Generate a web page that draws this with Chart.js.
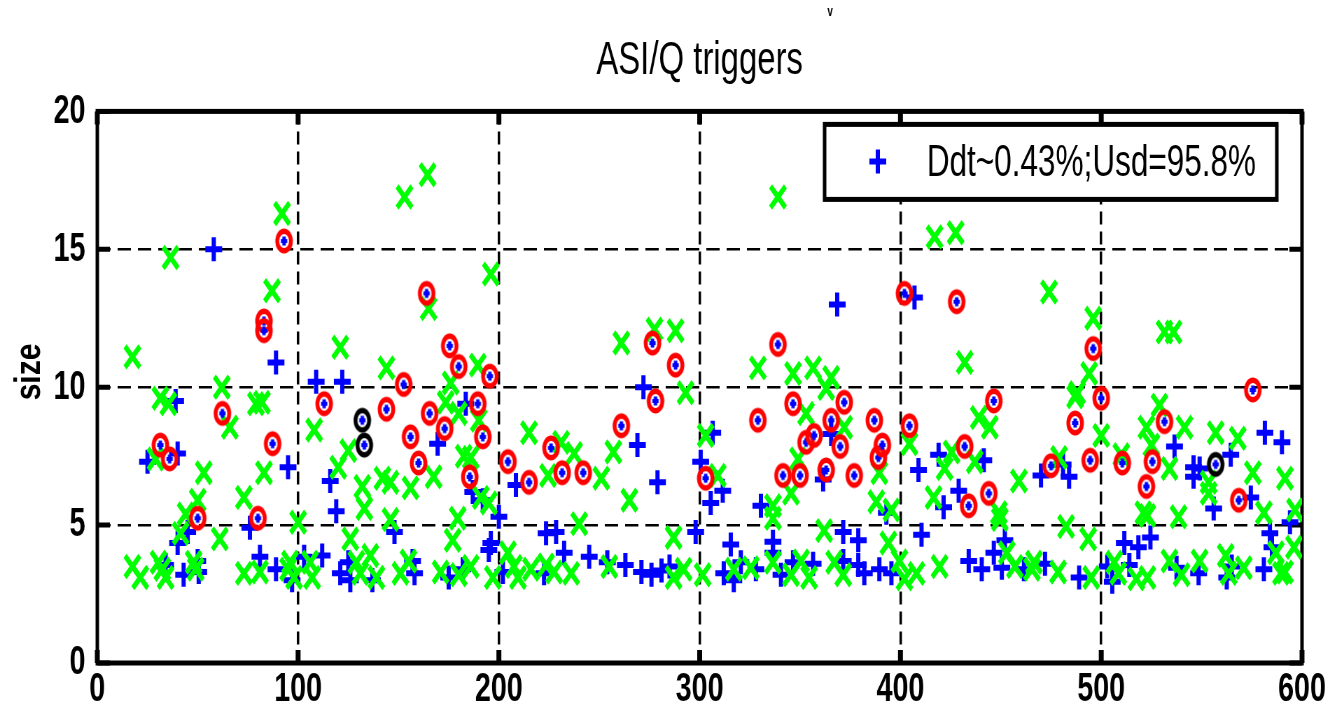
<!DOCTYPE html>
<html>
<head>
<meta charset="utf-8">
<title>ASI/Q triggers</title>
<script src="https://cdn.jsdelivr.net/npm/chart.js@4.4.0/dist/chart.umd.min.js"></script>
<style>
  html, body { margin: 0; padding: 0; background: #fff; overflow: hidden; }
  /* the original figure was squeezed sideways; draw wide and squeeze the same way */
  #wrap { width: 1901px; height: 722px; transform: scaleX(0.7); transform-origin: 0 0; }
</style>
</head>
<body>
<div id="wrap"><canvas id="trigChart" width="1901" height="722"></canvas></div>
<script>
// Chart text
const titleText = 'ASI/Q triggers';
const yAxisTitle = 'size';
const legendText = 'Ddt~0.43%;Usd=95.8%';

// Axis ranges / ticks
const xTickMin = 0, xTickMax = 600, xTickStep = 100;
const yTickMin = 0, yTickMax = 20, yTickStep = 5;

// Blue "+" triggers
const plusX = [25, 40, 39, 58, 89, 95, 76, 40, 45, 34,
  43, 50, 50.5, 81, 89, 97, 103, 112, 121, 125,
  126, 137, 148, 109, 122, 116, 119, 183.5, 169.5, 272,
  269, 279, 208.5, 200, 192, 187, 196, 195, 223.5, 228.5,
  232.5, 245, 254, 263, 271, 276, 281, 285, 158, 157,
  175, 182, 202, 222.5, 368.5, 407, 306.5, 300.5, 311.5, 305.5,
  298, 330.5, 315.5, 336.5, 361.5, 365.5, 371.5, 379, 393, 410.5,
  409, 419, 429, 421.5, 441.5, 312, 317, 320.5, 328, 336.5,
  340.5, 346.5, 356.5, 371.5, 379, 382, 389.5, 395.5, 434, 440.5,
  446.5, 536.5, 546, 549, 546, 564.5, 581.5, 590, 574.5, 556,
  470, 484, 481, 584, 585, 594, 452, 518.5, 524.5, 511.5,
  450.5, 461.5, 472, 489, 503, 505.5, 514, 537.5, 548.5, 562.5, 565, 581];
const plusY = [7.3, 7.6, 9.5, 15.0, 10.9, 7.1, 4.9, 4.35, 4.75, 3.55,
  3.2, 3.7, 3.3, 3.85, 3.4, 3.0, 3.85, 3.9, 3.25, 3.65,
  3.0, 3.0, 4.75, 10.2, 10.2, 6.6, 5.5, 9.4, 7.95, 10.0,
  7.9, 6.55, 6.45, 5.3, 5.9, 6.2, 4.35, 4.1, 4.7, 4.75,
  4.0, 3.85, 3.65, 3.55, 3.3, 3.2, 3.35, 3.5, 3.25, 3.7,
  3.1, 3.4, 3.3, 3.25, 13.0, 13.25, 8.35, 7.3, 6.25, 5.8,
  4.75, 5.7, 4.3, 4.4, 6.65, 8.3, 4.75, 4.45, 5.45, 4.65,
  7.0, 7.55, 6.25, 5.65, 7.35, 3.25, 3.0, 3.65, 3.4, 4.0,
  3.2, 3.65, 3.6, 3.7, 3.55, 3.25, 3.4, 3.25, 3.7, 3.4,
  4.0, 7.85, 7.1, 7.05, 6.75, 7.55, 8.35, 8.0, 6.0, 5.6,
  6.8, 6.75, 7.2, 4.7, 4.2, 5.1, 4.45, 4.2, 4.55, 4.35,
  3.45, 3.4, 3.6, 3.1, 3.5, 2.95, 3.55, 3.45, 3.25, 3.1, 3.5, 3.4];

// Green "x" triggers
const crossX = [17.5, 31.4, 35.4, 62, 66, 79, 82, 29, 53, 83,
  73, 50, 44, 41.5, 61, 100, 17.5, 21.4, 30.5, 32.4,
  34, 48, 49, 73, 81, 95, 98, 96, 106, 107,
  129, 131, 136, 139, 146, 108, 125, 120, 132, 133,
  142, 146, 126, 92, 36.5, 87, 121, 144, 164.5, 153,
  196, 165, 189.5, 176, 173.5, 180, 156, 167.5, 182.5, 186,
  190, 191, 195, 179.5, 177, 215, 231, 237.5, 224.5, 251,
  257, 265, 240, 293, 287, 155, 151, 171, 180, 186,
  197, 204.5, 207.5, 209.5, 216, 223.5, 227.5, 236, 255, 287,
  292, 261, 277.5, 288, 339, 417, 427.5, 432, 329, 346.5,
  356.5, 365.5, 363, 301.5, 317, 325.5, 336.5, 345.5, 350.5, 354.5,
  367, 371.5, 394, 399.5, 402, 408, 419.5, 303, 309, 353,
  362, 345.5, 336.5, 336.5, 349, 372, 388, 395.5, 389.5, 404.5,
  416.5, 422, 425.5, 437, 444.5, 439, 449, 474, 496, 494,
  531.5, 536, 488, 487, 500, 479, 459, 449.5, 482.5, 493.5,
  453, 510, 522.5, 529, 541.5, 525, 534, 557, 568, 575.5,
  591.5, 553.5, 553.5, 521, 523, 538.5, 581, 596.5, 596, 587,
  457, 466.5, 465.5, 478.5, 495, 506.5, 508.5, 517.5, 523, 534,
  540, 549, 562, 563.5, 571, 589.5, 591.5];
const crossY = [11.1, 9.6, 9.4, 10.0, 8.55, 9.4, 9.45, 7.4, 6.9, 6.9,
  6.0, 5.9, 5.4, 4.7, 4.5, 5.1, 3.5, 3.1, 3.65, 3.4,
  3.1, 3.65, 3.4, 3.25, 3.3, 3.4, 3.1, 3.65, 3.65, 3.1,
  3.65, 3.25, 3.9, 3.1, 5.2, 8.45, 7.7, 7.1, 6.4, 5.6,
  6.7, 6.55, 4.5, 16.3, 14.7, 13.5, 11.45, 10.7, 17.7, 16.9,
  14.1, 12.85, 10.8, 10.15, 9.45, 9.05, 6.35, 6.75, 7.5, 7.45,
  8.8, 6.0, 5.8, 5.25, 4.45, 8.35, 8.0, 7.6, 6.8, 6.7,
  7.65, 5.9, 5.05, 9.8, 4.55, 3.7, 3.25, 3.3, 3.2, 3.5,
  3.1, 4.0, 3.5, 3.1, 3.4, 3.55, 3.3, 3.25, 3.5, 3.1,
  3.4, 11.6, 12.1, 12.05, 16.9, 15.45, 15.6, 10.9, 10.7, 10.5,
  10.7, 10.35, 9.95, 3.2, 3.4, 3.45, 3.65, 3.2, 3.7, 3.1,
  3.65, 3.2, 4.35, 3.7, 3.05, 3.25, 3.5, 8.25, 6.8, 9.05,
  4.8, 6.15, 5.7, 5.25, 7.4, 8.55, 5.85, 5.55, 6.9, 7.95,
  6.0, 7.05, 7.65, 7.3, 8.55, 8.9, 5.45, 13.45, 12.5, 10.5,
  12.0, 12.0, 9.8, 9.65, 8.25, 7.45, 6.6, 5.2, 4.95, 4.5,
  4.0, 7.55, 8.55, 9.35, 8.55, 7.9, 7.05, 8.35, 8.15, 6.9,
  6.7, 6.55, 6.15, 5.45, 5.35, 5.3, 5.45, 5.55, 4.2, 4.0,
  3.5, 3.65, 3.4, 3.3, 3.1, 3.65, 3.25, 3.05, 3.1, 3.7,
  3.2, 3.7, 3.9, 3.25, 3.45, 3.25, 3.3];

// Red circled triggers
const ringX = [31.4, 36, 50, 62.3, 80, 83, 83, 87.3, 93, 113,
  144, 152.6, 156, 160, 164, 165.5, 173, 175.5, 180, 185.5,
  189.5, 192, 195.5, 204.5, 215, 226, 231.5, 242, 261, 276.5,
  278, 288, 303, 329, 339, 341.5, 346.5, 350, 353, 357,
  363, 365.5, 370, 372, 377, 387, 389, 391, 402, 404.5,
  428, 432, 434, 444, 446.5, 475, 487, 494.5, 496, 500,
  510.5, 522.5, 525.5, 531.5, 568.5, 575.5];
const ringY = [7.9, 7.4, 5.25, 9.05, 5.25, 12.4, 12.05, 7.95, 15.3, 9.4,
  9.2, 10.1, 8.2, 7.25, 13.4, 9.05, 8.5, 11.5, 10.75, 6.75,
  9.4, 8.2, 10.4, 7.3, 6.55, 7.8, 6.9, 6.9, 8.6, 11.6,
  9.5, 10.8, 6.7, 8.8, 11.55, 6.8, 9.4, 6.8, 8.0, 8.25,
  7.0, 8.8, 7.85, 9.45, 6.8, 8.8, 7.45, 7.9, 13.4, 8.6,
  13.1, 7.85, 5.7, 6.15, 9.5, 7.15, 8.7, 7.35, 11.4, 9.6,
  7.25, 6.4, 7.3, 8.75, 5.9, 9.9];

// Black circled triggers
const blackX = [132, 133, 557];
const blackY = [8.8, 7.9, 7.2];

const FONT = "'Liberation Sans', Arial, sans-serif";

function toPoints(xs, ys) {
    return xs.map((x, i) => ({ x: x, y: ys[i] }));
}

// circled marker with the small blue point in the middle
function ringMarker(color) {
    const size = 28, lw = 5.5;
    const c = document.createElement('canvas');
    c.width = size; c.height = size;
    const g = c.getContext('2d');
    g.beginPath();
    g.arc(size / 2, size / 2, (25 - lw) / 2, 0, Math.PI * 2);
    g.lineWidth = lw;
    g.strokeStyle = color;
    g.stroke();
    g.fillStyle = '#0000ff';
    g.fillRect(size / 2 - 2.5, size / 2 - 4.5, 5, 9);
    g.fillRect(size / 2 - 4.5, size / 2 - 2, 9, 4);
    return c;
}

const redRingImg = ringMarker('#ff0000');
const blackRingImg = ringMarker('#000000');

// Frame, inward tick marks, y label and the small stray mark above the title
const framePlugin = {
    id: 'frame',
    beforeDatasetsDraw(chart) {
        const { ctx, chartArea: a, scales } = chart;
        ctx.save();
        ctx.strokeStyle = '#000';
        ctx.lineWidth = 5;
        ctx.strokeRect(a.left, a.top, a.right - a.left, a.bottom - a.top);
        ctx.beginPath();
        ctx.lineWidth = 7;
        for (let v = xTickMin; v <= xTickMax; v += xTickStep) {
            const px = scales.x.getPixelForValue(v);
            ctx.moveTo(px, a.bottom); ctx.lineTo(px, a.bottom - 13);
            ctx.moveTo(px, a.top); ctx.lineTo(px, a.top + 13);
        }
        ctx.stroke();
        ctx.beginPath();
        ctx.lineWidth = 5;
        for (let v = yTickMin; v <= yTickMax; v += yTickStep) {
            const py = scales.y.getPixelForValue(v);
            ctx.moveTo(a.left, py); ctx.lineTo(a.left + 18, py);
            ctx.moveTo(a.right, py); ctx.lineTo(a.right - 18, py);
        }
        ctx.stroke();
        ctx.fillStyle = '#000';
        ctx.font = 'bold 14px ' + FONT;
        ctx.textAlign = 'center';
        ctx.textBaseline = 'middle';
        ctx.fillText('v', 1186, 12);

        // y axis label, rotated (kept wide so it does not look squeezed)
        ctx.save();
        ctx.translate(43, 372);
        ctx.scale(1.75, 1);
        ctx.rotate(-Math.PI / 2);
        ctx.font = 'bold 30px ' + FONT;
        ctx.fillText(yAxisTitle, 0, 0);
        ctx.restore();
        ctx.restore();
    }
};

// Legend box inside the plot, upper right
const legendPlugin = {
    id: 'insideLegend',
    afterDatasetsDraw(chart) {
        const { ctx, chartArea: a } = chart;
        const right = a.right - 36, top = a.top + 13;
        const w = 646, h = 75;
        const left = right - w;
        ctx.save();
        ctx.fillStyle = '#fff';
        ctx.fillRect(left, top, w, h);
        ctx.strokeStyle = '#000';
        ctx.lineWidth = 5;
        ctx.strokeRect(left, top, w, h);
        // legend symbol: same blue plus as the data
        ctx.strokeStyle = '#0000ff';
        ctx.lineWidth = 6;
        ctx.beginPath();
        const cx = left + 76, cy = top + 37;
        ctx.moveTo(cx - 12, cy); ctx.lineTo(cx + 12, cy);
        ctx.moveTo(cx, cy - 12); ctx.lineTo(cx, cy + 12);
        ctx.stroke();
        ctx.fillStyle = '#000';
        ctx.font = '45px ' + FONT;
        ctx.textAlign = 'left';
        ctx.textBaseline = 'middle';
        ctx.fillText(legendText, left + 146, top + 39);
        ctx.restore();
    }
};

const ctx = document.getElementById('trigChart').getContext('2d');
const tickFont = { family: FONT, size: 41, weight: 'bold' };

window.trigChart = new Chart(ctx, {
    type: 'scatter',
    data: {
        datasets: [
            { label: legendText, data: toPoints(plusX, plusY), pointStyle: 'cross', pointRadius: 12,
              borderColor: '#0000ff', backgroundColor: '#0000ff', pointBorderWidth: 6, order: 3 },
            { label: 'x', data: toPoints(crossX, crossY), pointStyle: 'crossRot', pointRadius: 15,
              borderColor: '#00ff00', backgroundColor: '#00ff00', pointBorderWidth: 6, order: 2 },
            { label: 'red', data: toPoints(ringX, ringY), pointStyle: redRingImg, pointRadius: 12, order: 1 },
            { label: 'black', data: toPoints(blackX, blackY), pointStyle: blackRingImg, pointRadius: 12, order: 0 }
        ]
    },
    options: {
        responsive: false,
        animation: false,
        layout: { padding: { left: 0, right: 41, top: 0, bottom: 0 } },
        plugins: {
            legend: { display: false },
            tooltip: { enabled: false },
            title: {
                display: true,
                text: titleText,
                fullSize: false,
                color: '#000',
                font: { family: FONT, size: 47, weight: 'normal', lineHeight: 1.2 },
                padding: { top: 33, bottom: 22 }
            }
        },
        scales: {
            x: {
                type: 'linear',
                min: xTickMin,
                max: xTickMax,
                ticks: { stepSize: xTickStep, color: '#000', font: tickFont, padding: 2, maxRotation: 0 },
                grid: { color: '#000', lineWidth: 3.5, drawTicks: false },
                border: { display: false, dash: [13, 7] },
                afterFit: s => { s.height = 59; }
            },
            y: {
                min: yTickMin,
                max: yTickMax,
                ticks: { stepSize: yTickStep, color: '#000', font: tickFont, padding: 17 },
                grid: { color: '#000', lineWidth: 2.5, drawTicks: false },
                border: { display: false, dash: [19, 10] },
                afterFit: s => { s.width = 139; }
            }
        }
    },
    plugins: [framePlugin, legendPlugin]
});
</script>
</body>
</html>
